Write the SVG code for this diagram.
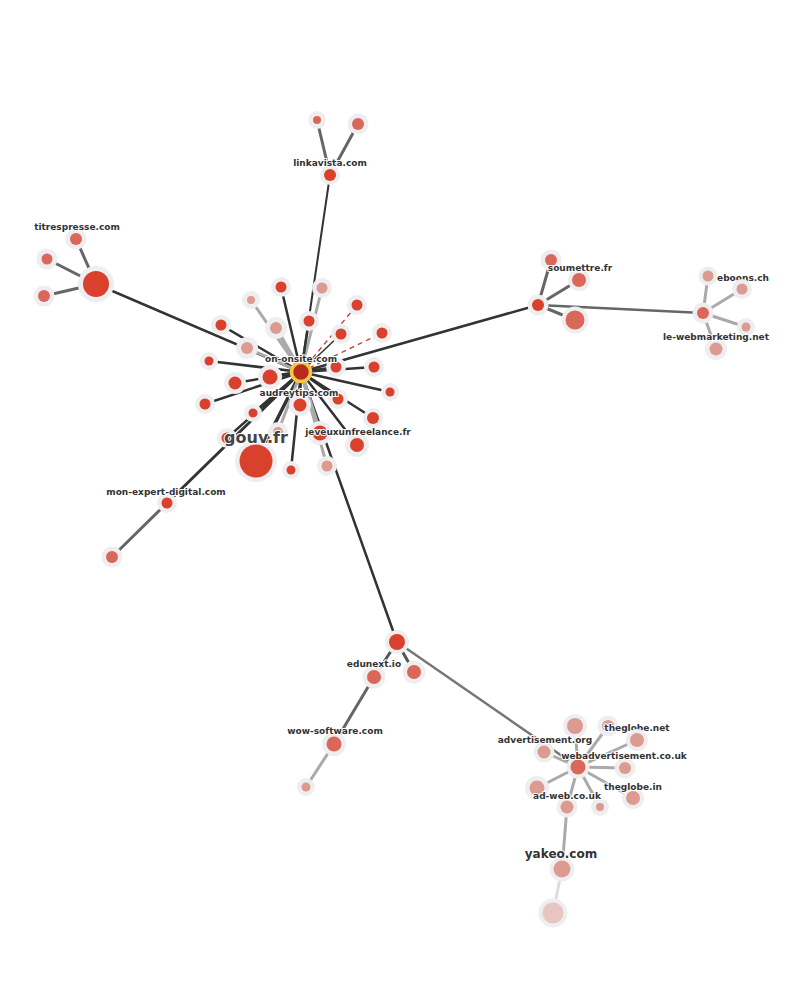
<svg xmlns="http://www.w3.org/2000/svg" width="800" height="1002" viewBox="0 0 800 1002">
<style>
.e{stroke:#333;stroke-width:2.5;fill:none;stroke-linecap:round}
.g{stroke:#aaa;stroke-width:3;fill:none;stroke-linecap:round}
.m{stroke:#666;stroke-width:3;fill:none;stroke-linecap:round}
.d{stroke:#c0392b;stroke-width:1.3;stroke-dasharray:5,4;fill:none}
.h{fill:#eeeef0}
.r1{fill:#d9412d}
.r2{fill:#d9675a}
.r3{fill:#dd9a91}
.r4{fill:#e9c5c1}
text{font-family:"DejaVu Sans",Verdana,sans-serif;font-weight:bold;font-size:9px;fill:#333;text-anchor:middle;stroke:#fff;stroke-width:2;paint-order:stroke;stroke-linejoin:round}
.big{font-size:16px;fill:#444}
.mid{font-size:12px}
</style>
<rect width="800" height="1002" fill="#fff"/>
<g id="connectors">
<line class="e" x1="301" y1="372" x2="330" y2="175" style="stroke-width:2"/>
<line class="e" x1="301" y1="372" x2="96" y2="284"/>
<line class="e" x1="301" y1="372" x2="538" y2="305"/>
<line class="e" x1="301" y1="372" x2="397" y2="642"/>
<line class="e" x1="301" y1="372" x2="167" y2="503" style="stroke-width:3"/>
<line class="e" x1="301" y1="372" x2="256" y2="461" style="stroke-width:3.5"/>
<line class="e" x1="301" y1="372" x2="281" y2="287"/>
<line class="g" x1="301" y1="372" x2="322" y2="288"/>
<line class="g" x1="301" y1="372" x2="251" y2="300"/>
<line class="g" x1="301" y1="372" x2="276" y2="328" style="stroke-width:4"/>
<line class="e" x1="301" y1="372" x2="309" y2="321"/>
<line class="e" x1="301" y1="372" x2="221" y2="325"/>
<line class="g" x1="301" y1="372" x2="247" y2="348"/>
<line class="e" x1="301" y1="372" x2="209" y2="361"/>
<line class="e" x1="301" y1="372" x2="270" y2="377" style="stroke-width:3.5"/>
<line class="e" x1="301" y1="372" x2="235" y2="383"/>
<line class="e" x1="301" y1="372" x2="205" y2="404"/>
<line class="e" x1="301" y1="372" x2="253" y2="413"/>
<line class="e" x1="301" y1="372" x2="227" y2="438"/>
<line class="g" x1="301" y1="372" x2="278" y2="432"/>
<line class="e" x1="301" y1="372" x2="291" y2="470"/>
<line class="e" x1="301" y1="372" x2="300" y2="405"/>
<line class="g" x1="301" y1="372" x2="320" y2="433" style="stroke-width:4"/>
<line class="g" x1="301" y1="372" x2="327" y2="466"/>
<line class="e" x1="301" y1="372" x2="357" y2="445"/>
<line class="e" x1="301" y1="372" x2="338" y2="399"/>
<line class="e" x1="301" y1="372" x2="373" y2="418"/>
<line class="e" x1="301" y1="372" x2="390" y2="392"/>
<line class="e" x1="301" y1="372" x2="374" y2="367"/>
<line class="e" x1="301" y1="372" x2="336" y2="367"/>
<line class="e" x1="301" y1="372" x2="341" y2="334" style="stroke-width:1.5"/>
<line class="d" x1="301" y1="372" x2="357" y2="305"/>
<line class="d" x1="301" y1="372" x2="382" y2="333"/>
<line class="m" x1="330" y1="175" x2="317" y2="120"/>
<line class="m" x1="330" y1="175" x2="358" y2="124"/>
<line class="m" x1="96" y1="284" x2="76" y2="239"/>
<line class="m" x1="96" y1="284" x2="47" y2="259"/>
<line class="m" x1="96" y1="284" x2="44" y2="296"/>
<line class="m" x1="538" y1="305" x2="551" y2="260"/>
<line class="m" x1="538" y1="305" x2="579" y2="280"/>
<line class="m" x1="538" y1="305" x2="575" y2="320"/>
<line class="m" x1="538" y1="305" x2="703" y2="313" style="stroke-width:2.5"/>
<line class="g" x1="703" y1="313" x2="708" y2="276"/>
<line class="g" x1="703" y1="313" x2="742" y2="289"/>
<line class="g" x1="703" y1="313" x2="746" y2="327"/>
<line class="g" x1="703" y1="313" x2="716" y2="349"/>
<line class="m" x1="167" y1="503" x2="112" y2="557"/>
<line class="m" x1="397" y1="642" x2="374" y2="677" style="stroke:#555"/>
<line class="m" x1="397" y1="642" x2="414" y2="672" style="stroke:#555"/>
<line class="m" x1="397" y1="642" x2="578" y2="767" style="stroke:#777;stroke-width:2.5"/>
<line class="m" x1="374" y1="677" x2="334" y2="744"/>
<line class="g" x1="334" y1="744" x2="306" y2="787"/>
<line class="g" x1="578" y1="767" x2="575" y2="726"/>
<line class="g" x1="578" y1="767" x2="608" y2="726"/>
<line class="g" x1="578" y1="767" x2="637" y2="740"/>
<line class="g" x1="578" y1="767" x2="544" y2="752"/>
<line class="g" x1="578" y1="767" x2="625" y2="768"/>
<line class="g" x1="578" y1="767" x2="537" y2="788"/>
<line class="g" x1="578" y1="767" x2="633" y2="798"/>
<line class="g" x1="578" y1="767" x2="567" y2="807"/>
<line class="g" x1="578" y1="767" x2="600" y2="807"/>
<line class="g" x1="567" y1="807" x2="562" y2="869"/>
<line class="g" x1="562" y1="869" x2="553" y2="913" style="stroke:#ddd"/>
</g>
<g id="n-c1"><circle class="h" cx="281" cy="287" r="10"/><circle class="r1" cx="281" cy="287" r="5.5"/></g>
<g id="n-c2"><circle class="h" cx="322" cy="288" r="10"/><circle class="r3" cx="322" cy="288" r="5.5"/></g>
<g id="n-c3"><circle class="h" cx="251" cy="300" r="9"/><circle class="r3" cx="251" cy="300" r="4"/></g>
<g id="n-c4"><circle class="h" cx="276" cy="328" r="11"/><circle class="r3" cx="276" cy="328" r="6"/></g>
<g id="n-c5"><circle class="h" cx="309" cy="321" r="10"/><circle class="r1" cx="309" cy="321" r="5.5"/></g>
<g id="n-c6"><circle class="h" cx="357" cy="305" r="10"/><circle class="r1" cx="357" cy="305" r="5.5"/></g>
<g id="n-c7"><circle class="h" cx="341" cy="334" r="10"/><circle class="r1" cx="341" cy="334" r="5.5"/></g>
<g id="n-c8"><circle class="h" cx="382" cy="333" r="10"/><circle class="r1" cx="382" cy="333" r="5.5"/></g>
<g id="n-c9"><circle class="h" cx="221" cy="325" r="10"/><circle class="r1" cx="221" cy="325" r="5.5"/></g>
<g id="n-c10"><circle class="h" cx="247" cy="348" r="11"/><circle class="r3" cx="247" cy="348" r="6"/></g>
<g id="n-c11"><circle class="h" cx="209" cy="361" r="9"/><circle class="r1" cx="209" cy="361" r="4.5"/></g>
<g id="n-c12"><circle class="h" cx="336" cy="367" r="10"/><circle class="r1" cx="336" cy="367" r="5.5"/></g>
<g id="n-c13"><circle class="h" cx="374" cy="367" r="10"/><circle class="r1" cx="374" cy="367" r="5.5"/></g>
<g id="n-c14"><circle class="h" cx="270" cy="377" r="12"/><circle class="r1" cx="270" cy="377" r="7.5"/></g>
<g id="n-c15"><circle class="h" cx="235" cy="383" r="11"/><circle class="r1" cx="235" cy="383" r="6.5"/></g>
<g id="n-c16"><circle class="h" cx="390" cy="392" r="9"/><circle class="r1" cx="390" cy="392" r="4.5"/></g>
<g id="n-c17"><circle class="h" cx="205" cy="404" r="10"/><circle class="r1" cx="205" cy="404" r="5.5"/></g>
<g id="n-c18"><circle class="h" cx="338" cy="399" r="10"/><circle class="r1" cx="338" cy="399" r="5.5"/></g>
<g id="n-c19"><circle class="h" cx="253" cy="413" r="9"/><circle class="r1" cx="253" cy="413" r="4.5"/></g>
<g id="n-c20"><circle class="h" cx="373" cy="418" r="10"/><circle class="r1" cx="373" cy="418" r="6"/></g>
<g id="n-c21"><circle class="h" cx="278" cy="432" r="10"/><circle class="r3" cx="278" cy="432" r="5"/></g>
<g id="n-c22"><circle class="h" cx="227" cy="438" r="10"/><circle class="r1" cx="227" cy="438" r="5.5"/></g>
<g id="n-c23"><circle class="h" cx="357" cy="445" r="12"/><circle class="r1" cx="357" cy="445" r="7"/></g>
<g id="n-c24"><circle class="h" cx="291" cy="470" r="9"/><circle class="r1" cx="291" cy="470" r="4.5"/></g>
<g id="n-c25"><circle class="h" cx="327" cy="466" r="10"/><circle class="r3" cx="327" cy="466" r="5.5"/></g>
<g id="n-jeveuxunfreelance"><circle class="h" cx="320" cy="433" r="12"/><circle class="r1" cx="320" cy="433" r="7.5"/><text x="358" y="435">jeveuxunfreelance.fr</text></g>
<g id="n-audreytips"><circle class="h" cx="300" cy="405" r="11"/><circle class="r1" cx="300" cy="405" r="6.5"/><text x="299" y="396">audreytips.com</text></g>
<g id="n-gouv"><circle class="h" cx="256" cy="461" r="21"/><circle class="r1" cx="256" cy="461" r="16.5"/><text class="big" x="256" y="443">gouv.fr</text></g>
<g id="n-onsite"><circle cx="301" cy="372" r="9.5" fill="#b82a1c" stroke="#f6c744" stroke-width="3.5"/><text x="301" y="362">on-onsite.com</text></g>
<g id="n-linkavista"><circle class="h" cx="330" cy="175" r="10"/><circle class="r1" cx="330" cy="175" r="6"/><text x="330" y="166">linkavista.com</text></g>
<g id="n-l1"><circle class="h" cx="317" cy="120" r="9"/><circle class="r2" cx="317" cy="120" r="4"/></g>
<g id="n-l2"><circle class="h" cx="358" cy="124" r="10.5"/><circle class="r2" cx="358" cy="124" r="6"/></g>
<g id="n-t1"><circle class="h" cx="76" cy="239" r="10.5"/><circle class="r2" cx="76" cy="239" r="6"/></g>
<g id="n-t2"><circle class="h" cx="47" cy="259" r="10.5"/><circle class="r2" cx="47" cy="259" r="5.5"/></g>
<g id="n-t3"><circle class="h" cx="44" cy="296" r="10.5"/><circle class="r2" cx="44" cy="296" r="6"/></g>
<g id="n-titrespresse"><circle class="h" cx="96" cy="284" r="18"/><circle class="r1" cx="96" cy="284" r="13"/><text x="77" y="230">titrespresse.com</text></g>
<g id="n-s1"><circle class="h" cx="551" cy="260" r="10.5"/><circle class="r2" cx="551" cy="260" r="6"/></g>
<g id="n-s2"><circle class="h" cx="579" cy="280" r="11"/><circle class="r2" cx="579" cy="280" r="7"/></g>
<g id="n-s3"><circle class="h" cx="575" cy="320" r="13.5"/><circle class="r2" cx="575" cy="320" r="9.5"/></g>
<g id="n-soumettre"><circle class="h" cx="538" cy="305" r="10.5"/><circle class="r1" cx="538" cy="305" r="6"/><text x="580" y="271">soumettre.fr</text></g>
<g id="n-eboons"><circle class="h" cx="708" cy="276" r="9.5"/><circle class="r3" cx="708" cy="276" r="5.5"/><text x="743" y="281">eboons.ch</text></g>
<g id="n-w2"><circle class="h" cx="742" cy="289" r="10"/><circle class="r3" cx="742" cy="289" r="5.5"/></g>
<g id="n-w3"><circle class="h" cx="746" cy="327" r="9"/><circle class="r3" cx="746" cy="327" r="4.5"/></g>
<g id="n-w4"><circle class="h" cx="716" cy="349" r="11"/><circle class="r3" cx="716" cy="349" r="6.5"/></g>
<g id="n-webmarketing"><circle class="h" cx="703" cy="313" r="10.5"/><circle class="r2" cx="703" cy="313" r="6"/><text x="716" y="340">le-webmarketing.net</text></g>
<g id="n-m1"><circle class="h" cx="112" cy="557" r="10.5"/><circle class="r2" cx="112" cy="557" r="6"/></g>
<g id="n-monexpert"><circle class="h" cx="167" cy="503" r="10"/><circle class="r1" cx="167" cy="503" r="5.5"/><text x="166" y="495">mon-expert-digital.com</text></g>
<g id="n-e1"><circle class="h" cx="414" cy="672" r="11.5"/><circle class="r2" cx="414" cy="672" r="7"/></g>
<g id="n-edunexthub"><circle class="h" cx="397" cy="642" r="12"/><circle class="r1" cx="397" cy="642" r="8"/></g>
<g id="n-edunext"><circle class="h" cx="374" cy="677" r="11.5"/><circle class="r2" cx="374" cy="677" r="7"/><text x="374" y="667">edunext.io</text></g>
<g id="n-w5"><circle class="h" cx="306" cy="787" r="9"/><circle class="r3" cx="306" cy="787" r="4.5"/></g>
<g id="n-wow"><circle class="h" cx="334" cy="744" r="12"/><circle class="r2" cx="334" cy="744" r="7.5"/><text x="335" y="734">wow-software.com</text></g>
<g id="n-a1"><circle class="h" cx="575" cy="726" r="12"/><circle class="r3" cx="575" cy="726" r="8"/></g>
<g id="n-theglobenet"><circle class="h" cx="608" cy="726" r="10.5"/><circle class="r3" cx="608" cy="726" r="6"/><text x="637" y="731">theglobe.net</text></g>
<g id="n-a3"><circle class="h" cx="637" cy="740" r="11"/><circle class="r3" cx="637" cy="740" r="7"/></g>
<g id="n-advertisement"><circle class="h" cx="544" cy="752" r="10.5"/><circle class="r3" cx="544" cy="752" r="6.5"/><text x="545" y="743">advertisement.org</text></g>
<g id="n-a5"><circle class="h" cx="625" cy="768" r="10.5"/><circle class="r3" cx="625" cy="768" r="6"/></g>
<g id="n-a6"><circle class="h" cx="537" cy="788" r="12"/><circle class="r3" cx="537" cy="788" r="7.5"/></g>
<g id="n-theglobein"><circle class="h" cx="633" cy="798" r="11"/><circle class="r3" cx="633" cy="798" r="7"/><text x="633" y="790">theglobe.in</text></g>
<g id="n-a8"><circle class="h" cx="600" cy="807" r="9"/><circle class="r3" cx="600" cy="807" r="4"/></g>
<g id="n-webadvertisement"><circle class="h" cx="578" cy="767" r="11.5"/><circle class="r2" cx="578" cy="767" r="7.5"/><text x="624" y="759">webadvertisement.co.uk</text></g>
<g id="n-adweb"><circle class="h" cx="567" cy="807" r="10.5"/><circle class="r3" cx="567" cy="807" r="6.5"/><text x="567" y="799">ad-web.co.uk</text></g>
<g id="n-y1"><circle class="h" cx="553" cy="913" r="14.5"/><circle class="r4" cx="553" cy="913" r="10.5"/></g>
<g id="n-yakeo"><circle class="h" cx="562" cy="869" r="12.5"/><circle class="r3" cx="562" cy="869" r="8.5"/><text class="mid" x="561" y="858">yakeo.com</text></g>
</svg>
